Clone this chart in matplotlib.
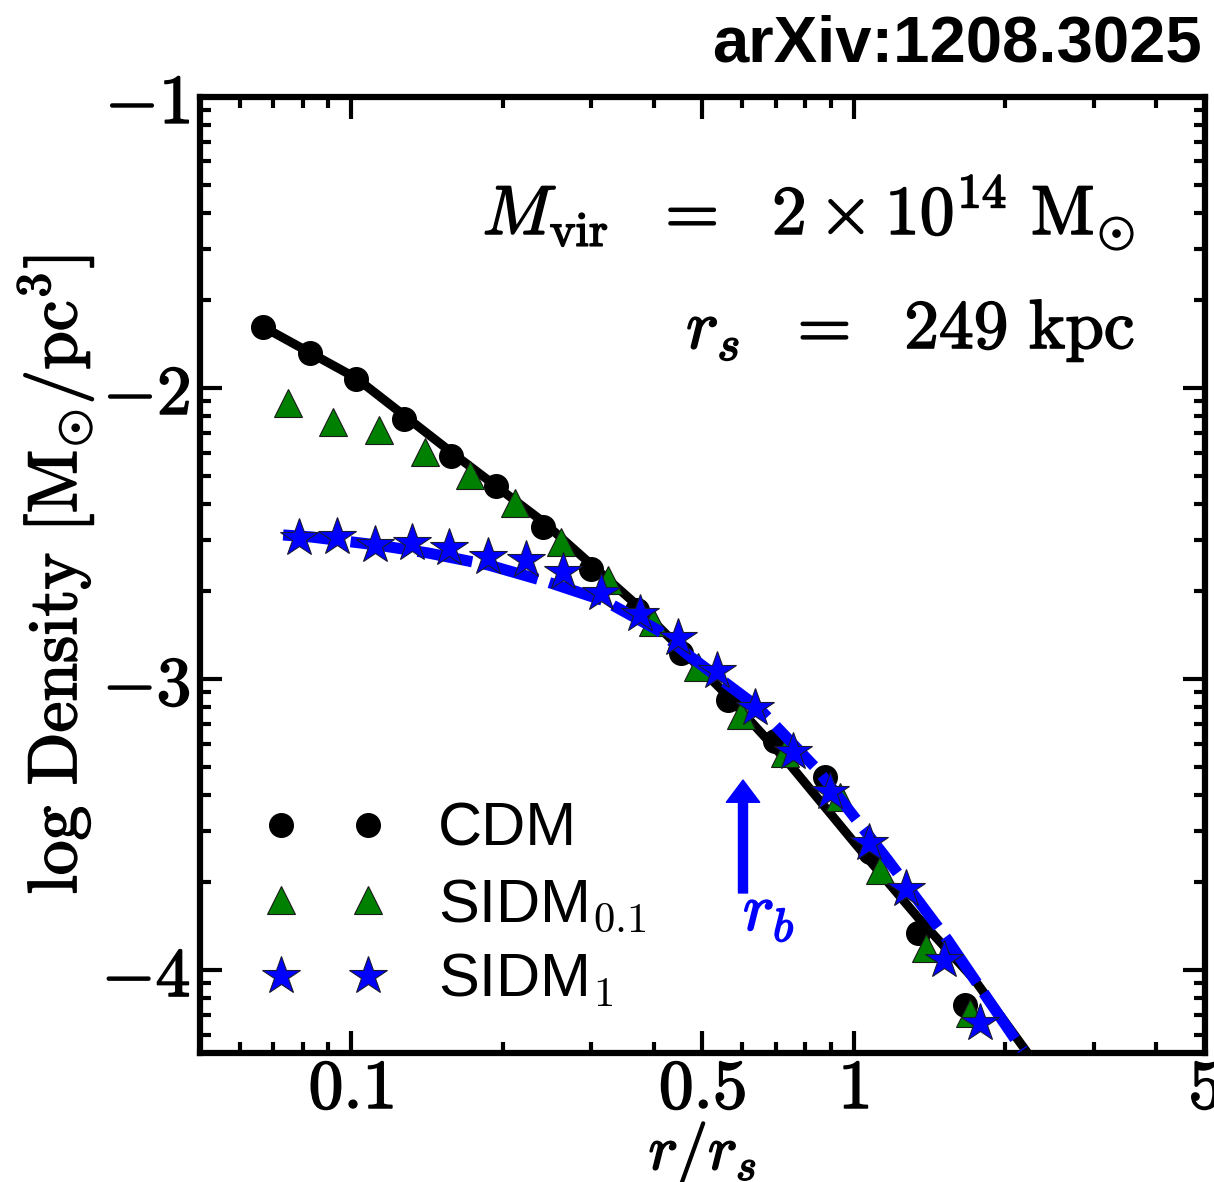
import numpy as np
import matplotlib
matplotlib.use('Agg')
import matplotlib.pyplot as plt
import matplotlib.patheffects as pe
from matplotlib.ticker import FixedLocator, NullFormatter

plt.rcParams['mathtext.fontset'] = 'cm'
plt.rcParams['font.family'] = 'DejaVu Serif'

# CDM simulation points
cdm_r = [0.0668, 0.0829, 0.1023, 0.1274, 0.158, 0.194, 0.241, 0.300, 0.370, 0.453,
         0.562, 0.697, 0.876, 1.076, 1.34, 1.662]
cdm_rho = [-1.790, -1.880, -1.969, -2.107, -2.234, -2.337, -2.478, -2.622, -2.763, -2.911,
           -3.072, -3.213, -3.337, -3.594, -3.873, -4.120]

# NFW fit (black solid)
nfw_r = [0.0668, 0.1023, 0.158, 0.241, 0.372, 0.554, 0.739, 1.005, 1.34, 1.74, 2.218]
nfw_rho = [-1.790, -1.966, -2.220, -2.460, -2.749, -3.048, -3.285, -3.564, -3.818, -4.034, -4.285]

# SIDM 0.1 points
s01_r = [0.0749, 0.0921, 0.1137, 0.1403, 0.1724, 0.2118, 0.2616, 0.324, 0.3985, 0.4897,
         0.596, 0.729, 0.938, 1.126, 1.390, 1.701]
s01_rho = [-2.052, -2.117, -2.144, -2.220, -2.299, -2.395, -2.529, -2.660, -2.804, -2.959,
           -3.124, -3.254, -3.405, -3.656, -3.924, -4.148]

# SIDM 1 points
s1_r = [0.0788, 0.0938, 0.1116, 0.1322, 0.1566, 0.1873, 0.2228, 0.2639, 0.314, 0.3754,
        0.4467, 0.534, 0.6357, 0.756, 0.896, 1.071, 1.269, 1.510, 1.780]
s1_rho = [-2.515, -2.512, -2.540, -2.533, -2.550, -2.581, -2.591, -2.632, -2.704, -2.777,
          -2.859, -2.973, -3.100, -3.251, -3.388, -3.564, -3.722, -3.966, -4.182]

# cored fit for SIDM 1 (blue dashed)
core_r = [0.0732, 0.0833, 0.1132, 0.1423, 0.1873, 0.2464, 0.320, 0.4077, 0.474, 0.644,
          0.848, 1.169, 1.538, 2.168]
core_rho = [-2.505, -2.512, -2.540, -2.567, -2.608, -2.667, -2.732, -2.832, -2.924, -3.096,
            -3.313, -3.622, -3.897, -4.275]

r_b = 0.602

bold = [pe.withStroke(linewidth=1.2, foreground='black')]

fig = plt.figure(figsize=(12.14, 11.82), dpi=100)
ax = fig.add_axes([0.1647, 0.1091, 0.8279, 0.8089])

ax.plot(cdm_r, cdm_rho, 'o', color='black', ms=17, zorder=2, label='CDM')
ax.plot(nfw_r, nfw_rho, '-', color='black', lw=6.5, zorder=3)
ax.plot(s01_r, s01_rho, '^', color='green', mec='#1a1a1a', mew=0.8, ms=20, zorder=4,
        label=r'SIDM$_{\mathsf{0.1}}$')
ax.plot(core_r, core_rho, color='blue', lw=8, ls=(0, (5, 1.1)), zorder=5)
ax.plot(s1_r, s1_rho, '*', color='blue', mec='#1a1a33', mew=0.8, ms=29, zorder=6,
        label=r'SIDM$_{\mathsf{1}}$')

ax.annotate('', xy=(r_b, -3.347), xytext=(r_b, -3.735),
            arrowprops=dict(facecolor='blue', edgecolor='blue', width=6.5, headwidth=24,
                            headlength=16))
t = ax.text(r_b * 1.0, -3.80, r'$r_b$', color='blue', fontsize=48, ha='left', va='center')
t.set_path_effects([pe.withStroke(linewidth=1.2, foreground='blue')])

ax.set_xscale('log')
ax.set_xlim(0.05, 5)
ax.set_ylim(-4.285, -1)

ax.xaxis.set_major_locator(FixedLocator([0.1, 0.5, 1, 5]))
ax.set_xticklabels([r'$0.1$', r'$0.5$', r'$1$', r'$5$'])
xminor = [k * 10.0 ** n for n in (-2, -1, 0) for k in range(2, 10)]
ax.xaxis.set_minor_locator(FixedLocator(xminor))
ax.xaxis.set_minor_formatter(NullFormatter())

ax.yaxis.set_major_locator(FixedLocator([-4, -3, -2, -1]))
ax.set_yticklabels([r'$-\mathbf{4}$', r'$-\mathbf{3}$', r'$-\mathbf{2}$', r'$-\mathbf{1}$'])
yminor = [n + np.log10(k) for n in (-5, -4, -3, -2) for k in range(2, 10)]
ax.yaxis.set_minor_locator(FixedLocator(yminor))

ax.tick_params(which='both', direction='in', top=True, right=True, width=3)
ax.tick_params(which='major', length=16, labelsize=50, pad=7)
ax.tick_params(axis='x', which='major', pad=2)
ax.tick_params(which='minor', length=8)
for sp in ax.spines.values():
    sp.set_linewidth(4.5)
for lab in ax.get_xticklabels() + ax.get_yticklabels():
    lab.set_path_effects(bold)

ax.set_xlabel(r'$r/r_s$', fontsize=45)
ax.xaxis.set_label_coords(0.5, -0.069)
ax.set_ylabel(r'${\rm log\ Density}\ [{\rm M}_{\odot}/{\rm pc}^{3}]$', fontsize=50, labelpad=4)
ax.xaxis.label.set_path_effects(bold)
ax.yaxis.label.set_path_effects(bold)

t1 = ax.text(0.93, 0.879, r'$M_{\rm vir}\ \ =\ \ 2\times10^{14}\ {\rm M}_{\odot}$',
             transform=ax.transAxes, fontsize=50, ha='right', va='center')
t2 = ax.text(0.93, 0.756, r'$r_s\ \ =\ \ 249\ {\rm kpc}$',
             transform=ax.transAxes, fontsize=50, ha='right', va='center')
t1.set_path_effects(bold)
t2.set_path_effects(bold)

leg = ax.legend(loc='lower left', bbox_to_anchor=(0.062, 0.045), numpoints=2,
                frameon=False, handlelength=2.03, handletextpad=0.85, borderpad=0,
                borderaxespad=0, labelspacing=0.3,
                prop={'family': 'Liberation Sans', 'size': 44})

fig.text(0.990, 0.962, 'arXiv:1208.3025', fontsize=47, fontweight='bold',
         family='Liberation Sans', ha='right', va='center')

fig.savefig('out.png', dpi=100)
